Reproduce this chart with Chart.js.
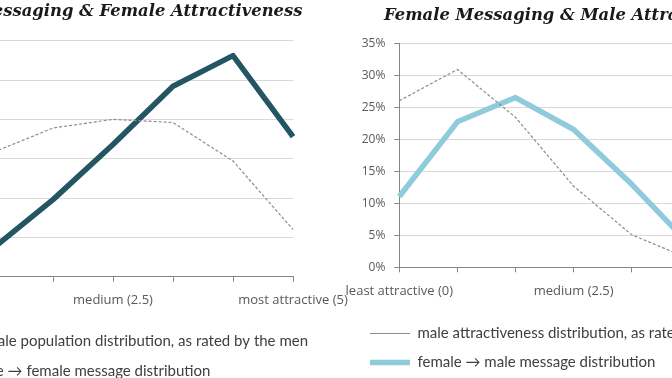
<!DOCTYPE html>
<html>
<head>
<meta charset="utf-8">
<script src="https://cdn.jsdelivr.net/npm/chart.js@4.4.1/dist/chart.umd.min.js"></script>
<style>
  html, body { margin: 0; padding: 0; background: #fff; }
  body { width: 672px; height: 378px; position: relative; overflow: hidden; }
  canvas { position: absolute; top: 0; }
  #leftChart { left: -200px; }
  #rightChart { left: 330px; }
</style>
</head>
<body>
<canvas id="leftChart" width="552" height="389"></canvas>
<canvas id="rightChart" width="461" height="380"></canvas>
<script>
// x categories: 0..5 attractiveness, seven points, only three labelled
const tickLabels = ["least attractive (0)", "", "", "medium (2.5)", "", "", "most attractive (5)"];

// left chart (%)
const femalePopulation = [5.0, 15.8, 18.9, 20.0, 19.6, 14.7, 6.0];
const maleToFemaleMessages = [0.8, 3.6, 9.8, 16.8, 24.2, 28.1, 17.8];

// right chart (%)
const maleAttractiveness = [26.1, 31.0, 23.5, 12.7, 5.1, 1.3, 0.3];
const femaleToMaleMessages = [11.1, 22.8, 26.6, 21.6, 13.0, 3.5, 1.4];

const AXIS = "#868686";
const GRID = "#d9d9d9";

function makeChart(id, cfg) {
  return new Chart(document.getElementById(id), {
    type: "line",
    data: {
      labels: tickLabels,
      datasets: [
        {
          label: cfg.dashLabel,
          data: cfg.dashData,
          borderColor: "#8c8c8c",
          borderWidth: 1.2,
          borderDash: [3, 2],
          pointRadius: 0,
          tension: 0
        },
        {
          label: cfg.solidLabel,
          data: cfg.solidData,
          borderColor: cfg.color,
          borderWidth: 5.5,
          borderJoinStyle: "round",
          pointRadius: 0,
          tension: 0
        }
      ]
    },
    options: {
      responsive: false,
      animation: false,
      layout: { padding: cfg.padding },
      plugins: {
        tooltip: { enabled: false },
        title: {
          display: true,
          text: cfg.title,
          color: "#1a1a1a",
          font: { family: "DejaVu Serif", size: 16.4, weight: "bold", style: "italic" },
          padding: cfg.titlePadding
        },
        legend: {
          position: "bottom",
          align: "start",
          labels: {
            usePointStyle: true,
            pointStyle: "line",
            pointStyleWidth: 40,
            padding: cfg.legendPad,
            color: "#404040",
            font: { family: "Lato", size: 15 }
          }
        }
      },
      scales: {
        x: {
          border: { color: AXIS },
          grid: { drawOnChartArea: false, drawTicks: true, tickLength: 5, color: AXIS },
          ticks: {
            autoSkip: false, maxRotation: 0, padding: 11,
            color: "#595959", font: { family: "Open Sans", size: 13 }
          },
          afterFit: s => { s.height = cfg.xHeight; s.paddingLeft = 0; s.paddingRight = cfg.xPadRight; }
        },
        y: {
          min: 0, max: cfg.yMax,
          border: { color: AXIS },
          grid: { color: GRID, tickColor: AXIS, tickLength: 5 },
          ticks: {
            stepSize: 5, padding: 9,
            color: "#595959", font: { family: "Open Sans", size: 12 },
            callback: v => v + "%"
          },
          afterFit: s => { s.width = cfg.yWidth; }
        }
      }
    }
  });
}

makeChart("leftChart", {
  title: "Male Messaging & Female Attractiveness",
  dashLabel: "female population distribution, as rated by the men",
  dashData: femalePopulation,
  solidLabel: "male \u2192 female message distribution",
  solidData: maleToFemaleMessages,
  color: "#245562",
  yMax: 30,
  yWidth: 23,
  xHeight: 42.3,
  xPadRight: 59,
  legendPad: 15,
  titlePadding: { top: 2, bottom: 19 },
  padding: { left: 110, right: 36, top: 0, bottom: 0 }
});

makeChart("rightChart", {
  title: "Female Messaging & Male Attractiveness",
  dashLabel: "male attractiveness distribution, as rated by the women",
  dashData: maleAttractiveness,
  solidLabel: "female \u2192 male message distribution",
  solidData: femaleToMaleMessages,
  color: "#8fcbdb",
  yMax: 35,
  yWidth: 43.3,
  xHeight: 44.7,
  xPadRight: 43,
  legendPad: 14,
  titlePadding: { top: 5.5, bottom: 18.8 },
  padding: { left: 26, right: 0, top: 0, bottom: 0 }
});
</script>
</body>
</html>
